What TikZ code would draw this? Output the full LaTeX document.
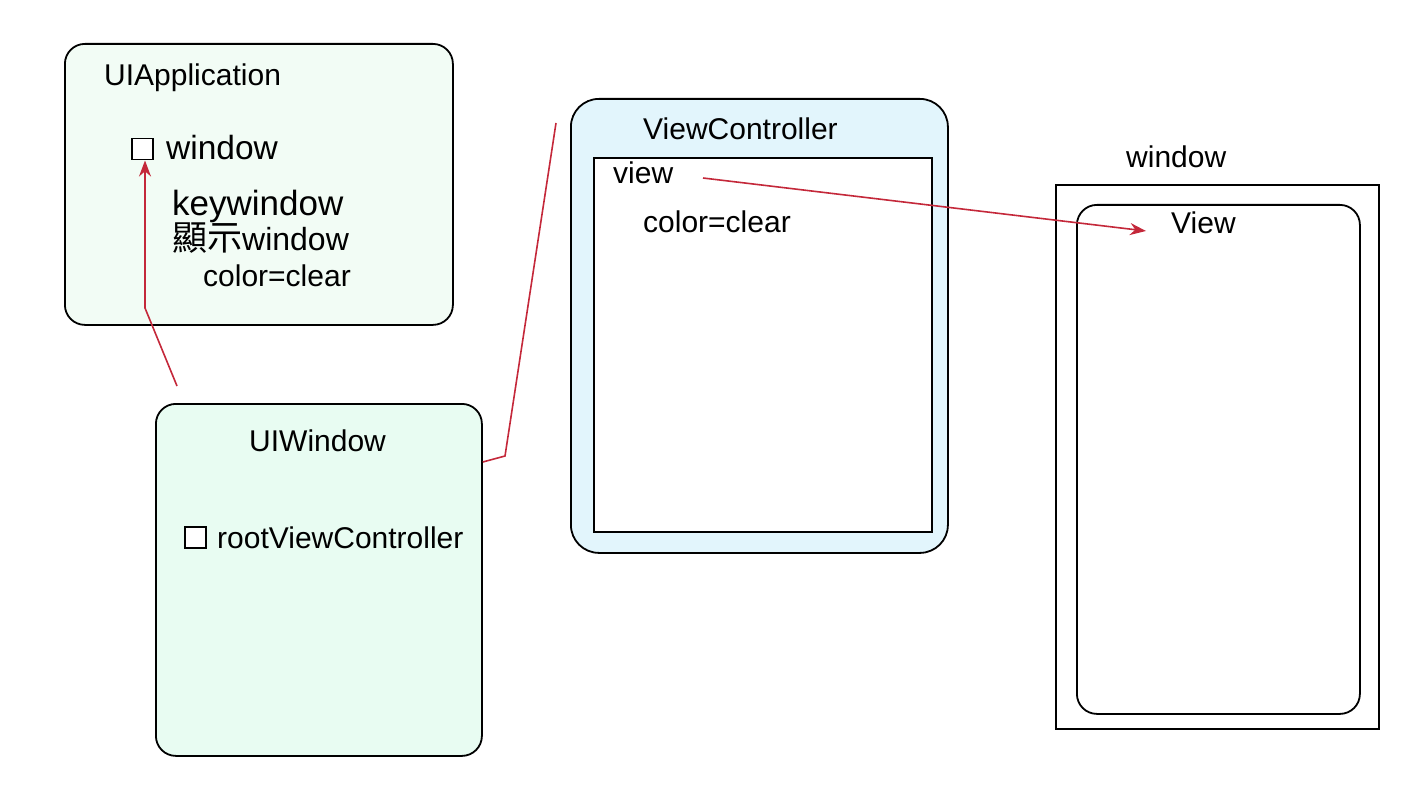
\documentclass[tikz,border=0pt]{standalone}
\usepackage{fontspec}
\setmainfont{Liberation Sans}
\newfontfamily\cjk{Noto Sans CJK TC}
\usetikzlibrary{arrows.meta}
\definecolor{appfill}{HTML}{F2FCF5}
\definecolor{winfill}{HTML}{E8FCF2}
\definecolor{vcfill}{HTML}{E2F5FC}
\definecolor{linkred}{HTML}{C4283A}
\tikzset{
  box/.style={draw=black, line width=1.8pt, anchor=north west, inner sep=0pt},
  rbox/.style={box, rounded corners=20pt},
  chk/.style={draw=black, line width=1.5pt, fill=white, minimum size=21pt, inner sep=0pt, anchor=north west},
  lbl/.style={anchor=base west, inner sep=0pt, font=\fontsize{30}{36}\selectfont},
  biglbl/.style={anchor=base west, inner sep=0pt, font=\fontsize{35}{40}\selectfont},
  midlbl/.style={anchor=base west, inner sep=0pt, font=\fontsize{33.5}{40}\selectfont},
  link/.style={draw=linkred, line width=1.6pt},
  tip/.style={-{Stealth[length=16pt,width=12pt]}}
}
\begin{document}
\begin{tikzpicture}[x=1pt,y=-1pt]
\useasboundingbox (0,0) rectangle (1412,799);
% boxes
\node[rbox, fill=appfill, minimum width=388pt, minimum height=281pt] (app) at (64,43) {};
\node[rbox, fill=winfill, minimum width=326pt, minimum height=352pt] (uiwin) at (155,403) {};
\node[box, rounded corners=28pt, fill=vcfill, minimum width=377pt, minimum height=454pt] (vc) at (570,98) {};
\node[box, fill=white, minimum width=338pt, minimum height=374pt] (vcview) at (593,157) {};
\node[box, fill=white, minimum width=323pt, minimum height=544pt] (winrect) at (1055,184) {};
\node[rbox, fill=white, minimum width=283pt, minimum height=509pt] (viewbox) at (1076,204) {};
% checkboxes
\node[chk] (chkwin) at (131,138) {};
\node[chk] (chkroot) at (184,526) {};
% texts
\node[lbl] (tapp) at (104,86) {UIApplication};
\node[midlbl] (twin) at (166,160) {window};
\node[biglbl] (tkey) at (172,216) {keywindow};
\node[biglbl] (tshow) at (172,251) {{\cjk 顯示}{\fontsize{32}{38}\selectfont window}};
\node[lbl] (tclr1) at (203,287) {color=clear};
\node[lbl] (tuiwin) at (249,451) {UIWindow};
\node[lbl] (troot) at (217,548) {rootViewController};
\node[lbl] (tvc) at (643,140) {ViewController};
\node[lbl] (tview) at (613,184) {view};
\node[lbl] (tclr2) at (643,233) {color=clear};
\node[lbl] (twin2) at (1126,168) {window};
\node[lbl] (tView) at (1171,234) {View};
% connectors
\coordinate (s1) at (177,386);
\coordinate (b1) at (145,308);
\coordinate (b2) at (505,456);
\coordinate (e2) at (556,123);
\coordinate (s3) at (703,178);
\coordinate (e3) at (1146,231);
\draw[link, tip] (s1) -- (b1) -- (chkwin.south west -| b1);
\draw[link] (uiwin.east |- 0,462) -- (b2) -- (e2);
\draw[link, tip] (s3) -- (e3);
\end{tikzpicture}
\end{document}
